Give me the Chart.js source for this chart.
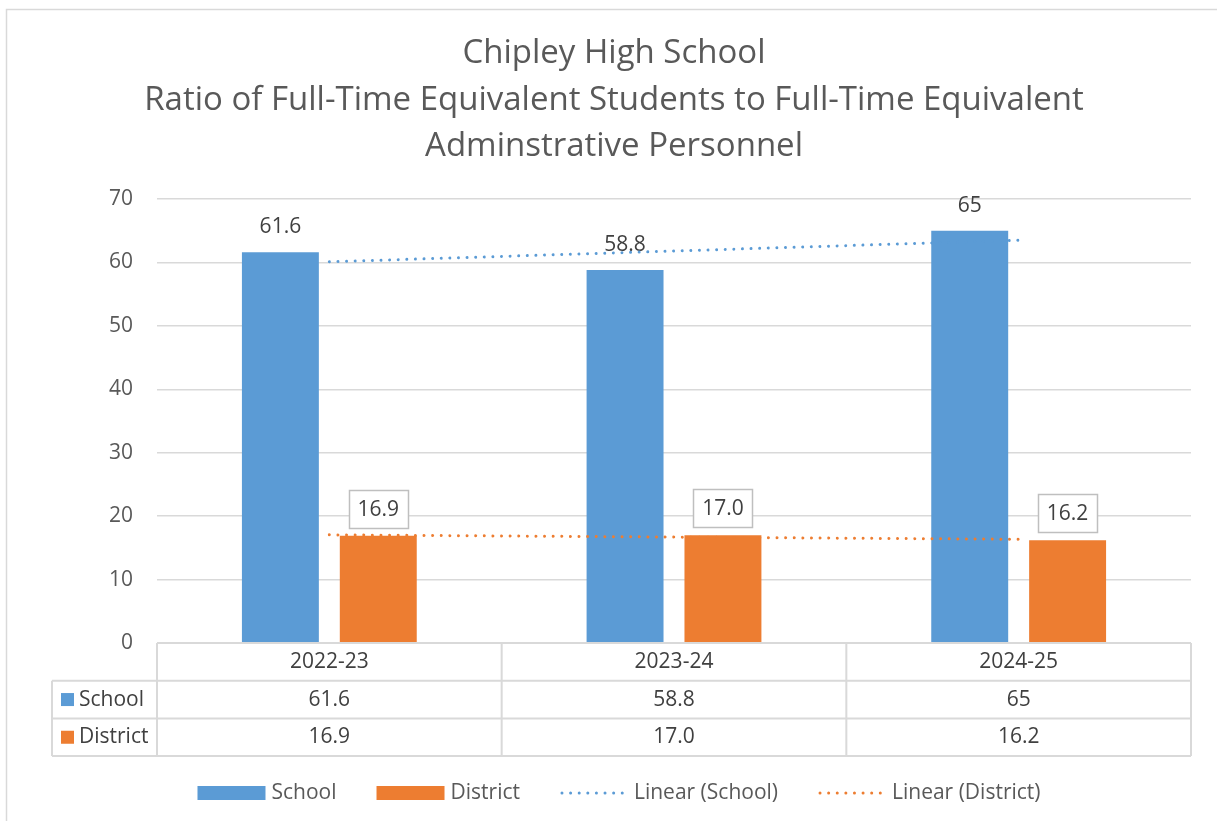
<!DOCTYPE html>
<html>
<head>
<meta charset="utf-8">
<script src="https://cdn.jsdelivr.net/npm/chart.js@4.4.1/dist/chart.umd.min.js"></script>
<style>
  html, body { margin: 0; background: #fff; }
  #wrap { width: 1217px; height: 821px; position: relative; }
</style>
</head>
<body>
<div id="wrap"><canvas id="ratioChart"></canvas></div>
<script>
// data
const categories = ['2022-23', '2023-24', '2024-25'];
const schoolValues = [61.6, 58.8, 65];
const districtValues = [16.9, 17.0, 16.2];
// Excel linear trendlines (end points)
const schoolTrend = [60.1, 61.8, 63.5];
const districtTrend = [17.05, 16.7, 16.35];
const yMin = 0, yMax = 70, yStep = 10;
const titleLines = [
  'Chipley High School',
  'Ratio of Full-Time Equivalent Students to Full-Time Equivalent',
  'Adminstrative Personnel'
];

const FONT = "'Open Sans', 'Liberation Sans', sans-serif";
const BLUE = '#5B9BD5';
const ORANGE = '#ED7D31';
const GRID = '#D9D9D9';
const TEXT = '#595959';
const LABEL = '#404040';
const DOTS = [0.01, 8.6];

const fmtSchool = v => String(v);
const fmtDistrict = v => v.toFixed(1);

function dottedLine(ctx, x1, y1, x2, y2, color) {
  ctx.save();
  ctx.strokeStyle = color;
  ctx.lineWidth = 3;
  ctx.lineCap = 'round';
  ctx.setLineDash(DOTS);
  ctx.beginPath();
  ctx.moveTo(x1, y1);
  ctx.lineTo(x2, y2);
  ctx.stroke();
  ctx.restore();
}

const decor = {
  id: 'decor',
  beforeDraw(chart) {
    const ctx = chart.ctx;
    ctx.save();
    ctx.fillStyle = '#fff';
    ctx.fillRect(0, 0, chart.width, chart.height);
    // outer chart border (only top-left corner is in view)
    ctx.strokeStyle = GRID;
    ctx.lineWidth = 1.5;
    ctx.beginPath();
    ctx.moveTo(6.5, chart.height);
    ctx.lineTo(6.5, 9.5);
    ctx.lineTo(chart.width, 9.5);
    ctx.stroke();
    ctx.restore();
  },
  beforeDatasetsDraw(chart) {
    // value labels, drawn before the trendlines so the dots pass over them
    const ctx = chart.ctx;
    ctx.save();
    ctx.font = '21px ' + FONT;
    ctx.textAlign = 'center';
    ctx.textBaseline = 'middle';
    chart.getDatasetMeta(0).data.forEach((bar, i) => {
      ctx.fillStyle = LABEL;
      ctx.fillText(fmtSchool(schoolValues[i]), bar.x, bar.y - 25);
    });
    chart.getDatasetMeta(1).data.forEach((bar, i) => {
      const txt = fmtDistrict(districtValues[i]);
      const w = 59, h = 38;
      const bx = Math.round(bar.x - w / 2) + 0.5;
      const by = Math.round(bar.y - 8 - h) + 0.5;
      ctx.fillStyle = '#fff';
      ctx.fillRect(bx, by, w, h);
      ctx.strokeStyle = '#BFBFBF';
      ctx.lineWidth = 1.5;
      ctx.strokeRect(bx, by, w, h);
      ctx.fillStyle = LABEL;
      ctx.fillText(txt, bar.x, by + h / 2 + 1);
    });
    ctx.restore();
  },
  afterDraw(chart) {
    const ctx = chart.ctx;
    const area = chart.chartArea;
    const cx = 614;
    ctx.save();

    // title
    ctx.fillStyle = TEXT;
    ctx.font = '33px ' + FONT;
    ctx.textAlign = 'center';
    ctx.textBaseline = 'middle';
    titleLines.forEach((t, i) => ctx.fillText(t, cx, 54 + i * 46.5));

    // data table under the plot
    const left = area.left, right = area.right, top = area.bottom;
    const rowH = 37.7;
    const keyLeft = 52;
    const colW = (right - left) / categories.length;
    ctx.strokeStyle = GRID;
    ctx.lineWidth = 2;
    ctx.beginPath();
    ctx.moveTo(left, top); ctx.lineTo(right, top);
    for (let r = 1; r <= 3; r++) {
      ctx.moveTo(keyLeft, top + r * rowH); ctx.lineTo(right, top + r * rowH);
    }
    ctx.moveTo(keyLeft, top + rowH); ctx.lineTo(keyLeft, top + 3 * rowH);
    for (let c = 0; c <= categories.length; c++) {
      ctx.moveTo(left + c * colW, top); ctx.lineTo(left + c * colW, top + 3 * rowH);
    }
    ctx.stroke();

    ctx.font = '21px ' + FONT;
    ctx.fillStyle = LABEL;
    categories.forEach((cat, i) => {
      const x = left + (i + 0.5) * colW;
      ctx.fillText(cat, x, top + rowH * 0.5);
      ctx.fillText(fmtSchool(schoolValues[i]), x, top + rowH * 1.5);
      ctx.fillText(fmtDistrict(districtValues[i]), x, top + rowH * 2.5);
    });
    ctx.textAlign = 'left';
    [['School', BLUE], ['District', ORANGE]].forEach(([name, col], r) => {
      const y = top + rowH * (r + 1.5);
      ctx.fillStyle = col;
      ctx.fillRect(61, y - 6.5, 13, 13);
      ctx.fillStyle = LABEL;
      ctx.fillText(name, 79, y);
    });

    // legend
    const items = [
      { text: 'School', color: BLUE, kind: 'box' },
      { text: 'District', color: ORANGE, kind: 'box' },
      { text: 'Linear (School)', color: BLUE, kind: 'dots' },
      { text: 'Linear (District)', color: ORANGE, kind: 'dots' }
    ];
    ctx.font = '21px ' + FONT;
    const symW = 68, symGap = 6, itemGap = 40;
    let total = 0;
    items.forEach((it, i) => {
      it.w = ctx.measureText(it.text).width;
      total += symW + symGap + it.w + (i ? itemGap : 0);
    });
    let x = 619 - total / 2;
    const ly = 793;
    items.forEach(it => {
      if (it.kind === 'box') {
        ctx.fillStyle = it.color;
        ctx.fillRect(x, ly - 7, symW, 14);
      } else {
        dottedLine(ctx, x + 2, ly, x + symW - 4, ly, it.color);
      }
      ctx.fillStyle = TEXT;
      ctx.fillText(it.text, x + symW + symGap, ly);
      x += symW + symGap + it.w + itemGap;
    });
    ctx.restore();
  }
};

new Chart(document.getElementById('ratioChart'), {
  data: {
    labels: categories,
    datasets: [
      { type: 'bar', label: 'School', data: schoolValues, backgroundColor: BLUE, order: 1,
        categoryPercentage: 0.568, barPercentage: 0.786 },
      { type: 'bar', label: 'District', data: districtValues, backgroundColor: ORANGE, order: 1,
        categoryPercentage: 0.568, barPercentage: 0.786 },
      { type: 'line', label: 'Linear (School)', data: schoolTrend, borderColor: BLUE, borderWidth: 3,
        borderDash: DOTS, borderCapStyle: 'round', pointRadius: 0, fill: false, tension: 0, order: 0 },
      { type: 'line', label: 'Linear (District)', data: districtTrend, borderColor: ORANGE, borderWidth: 3,
        borderDash: DOTS, borderCapStyle: 'round', pointRadius: 0, fill: false, tension: 0, order: 0 }
    ]
  },
  options: {
    responsive: true,
    maintainAspectRatio: false,
    animation: false,
    layout: { padding: { left: 0, top: 199, right: 26, bottom: 178 } },
    plugins: { legend: { display: false }, title: { display: false }, tooltip: { enabled: false } },
    scales: {
      x: { display: false },
      y: {
        min: yMin, max: yMax,
        afterFit: s => { s.width = 157; },
        border: { display: false },
        grid: { color: GRID, lineWidth: 1.5, drawTicks: false },
        ticks: { stepSize: yStep, padding: 24, color: TEXT, font: { family: FONT, size: 21 } }
      }
    }
  },
  plugins: [decor]
});
</script>
</body>
</html>
